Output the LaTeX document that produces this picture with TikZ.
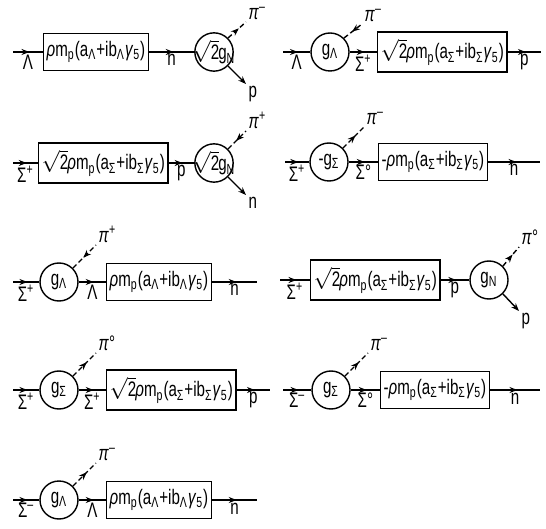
\documentclass[tikz,border=0pt]{standalone}
\usepackage{fontspec}
\setmainfont{Liberation Sans}[FakeStretch=0.72]
\usetikzlibrary{arrows.meta,decorations.markings}

\newcommand{\ampL}{\textit{ρ}m\textsubscript{p}(a\textsubscript{Λ}+ib\textsubscript{Λ}\textit{γ}\textsubscript{5})}
\newcommand{\ampS}{\textit{ρ}m\textsubscript{p}(a\textsubscript{Σ}+ib\textsubscript{Σ}\textit{γ}\textsubscript{5})}
\newcommand{\sqtwo}{$\sqrt{\hbox{2}}$\kern-0.5pt}

\begin{document}
\begin{tikzpicture}[>=Stealth,x=0.5pt,y=-0.5pt,line width=0.7pt,
    font=\fontsize{10.5}{12}\selectfont,
    vtx/.style={circle,draw,minimum size=19pt,inner sep=0pt},
    wide/.style={inner sep=-2pt},
    blk/.style={draw,minimum height=18.5pt,inner xsep=1.5pt,anchor=west},
    lbl/.style={below=0.5pt,inner sep=0.5pt},
    tag/.style={anchor=south west,inner sep=1pt},
    fwd/.style={postaction={decorate},decoration={markings,
      mark=at position 0.55 with {\arrow{Stealth[length=4pt,width=3pt]}}}},
    pion/.style={dash pattern=on 2.5pt off 1.5pt,postaction={decorate},
      decoration={markings,mark=at position 0.6 with {\arrow{Stealth[length=4pt,width=3pt]}}}},
    pionin/.style={dash pattern=on 2.5pt off 1.5pt,postaction={decorate},
      decoration={markings,mark=at position 0.45 with {\arrowreversed{Stealth[length=4pt,width=3pt]}}}},
    nuc/.style={-{Stealth[length=4pt,width=3pt]}}]
  \useasboundingbox (0,0) rectangle (546,529);

  % Lambda -> n pi- -> p
  \coordinate (a1) at (13,52);
  \node[blk] (b1) at (43,52) {\ampL};
  \node[vtx,wide] (v1) at (214,52) {\sqtwo g\textsubscript{N}};
  \coordinate (pi1) at (246,22);
  \coordinate (o1) at (246,84);
  \draw[fwd] (a1) -- node[lbl] (la1) {Λ} (b1);
  \draw[fwd] (b1) -- node[lbl] (lb1) {n} (v1);
  \draw[pion] (v1.north east) -- (pi1) node[tag] (t1) {\textit{π}\textsuperscript{--}};
  \draw[nuc] (v1.south east) -- (o1) node[anchor=north west,inner sep=1pt] (u1) {p};

  % Lambda -> Sigma+ pi- -> p
  \coordinate (a2) at (283,52);
  \node[vtx] (v2) at (330,52) {g\textsubscript{Λ}};
  \node[blk] (b2) at (377,52) {\sqtwo\ampS};
  \coordinate (e2) at (541,52);
  \coordinate (pi2) at (362,24);
  \draw[fwd] (a2) -- node[lbl] (la2) {Λ} (v2);
  \draw[fwd] (v2) -- node[lbl] (lb2) {Σ\textsuperscript{+}} (b2);
  \draw[fwd] (b2) -- node[lbl] (lc2) {p} (e2);
  \draw[pionin] (v2.north east) -- (pi2) node[tag] (t2) {\textit{π}\textsuperscript{--}};

  % Sigma+ -> p -> n pi+
  \coordinate (a3) at (13,163);
  \node[blk] (b3) at (38,163) {\sqtwo\ampS};
  \node[vtx,wide] (v3) at (214,163) {\sqtwo g\textsubscript{N}};
  \coordinate (pi3) at (246,131);
  \coordinate (o3) at (246,195);
  \draw[fwd] (a3) -- node[lbl] (la3) {Σ\textsuperscript{+}} (b3);
  \draw[fwd] (b3) -- node[lbl] (lb3) {p} (v3);
  \draw[pionin] (v3.north east) -- (pi3) node[tag] (t3) {\textit{π}\textsuperscript{+}};
  \draw[nuc] (v3.south east) -- (o3) node[anchor=north west,inner sep=1pt] (u3) {n};

  % Sigma+ -> Sigma0 pi- -> n
  \coordinate (a4) at (285,162);
  \node[vtx] (v4) at (329,162) {-g\textsubscript{Σ}};
  \node[blk] (b4) at (378,162) {-\ampS};
  \coordinate (e4) at (540,162);
  \coordinate (pi4) at (364,127);
  \draw[fwd] (a4) -- node[lbl] (la4) {Σ\textsuperscript{+}} (v4);
  \draw[fwd] (v4) -- node[lbl] (lb4) {Σ°} (b4);
  \draw[fwd] (b4) -- node[lbl] (lc4) {n} (e4);
  \draw[pion] (v4.north east) -- (pi4) node[tag] (t4) {\textit{π}\textsuperscript{--}};

  % Sigma+ -> Lambda pi+ -> n
  \coordinate (a5) at (13,282);
  \node[vtx] (v5) at (59,282) {g\textsubscript{Λ}};
  \node[blk] (b5) at (106,282) {\ampL};
  \coordinate (e5) at (257,282);
  \coordinate (pi5) at (96,245);
  \draw[fwd] (a5) -- node[lbl] (la5) {Σ\textsuperscript{+}} (v5);
  \draw[fwd] (v5) -- node[lbl] (lb5) {Λ} (b5);
  \draw[fwd] (b5) -- node[lbl] (lc5) {n} (e5);
  \draw[pionin] (v5.north east) -- (pi5) node[tag] (t5) {\textit{π}\textsuperscript{+}};

  % Sigma+ -> p -> p pi0
  \coordinate (a6) at (280,280);
  \node[blk] (b6) at (310,280) {\sqtwo\ampS};
  \node[vtx] (v6) at (489,280) {g\textsubscript{N}};
  \coordinate (pi6) at (519,247);
  \coordinate (o6) at (519,311);
  \draw[fwd] (a6) -- node[lbl] (la6) {Σ\textsuperscript{+}} (b6);
  \draw[fwd] (b6) -- node[lbl] (lb6) {p} (v6);
  \draw[pion] (v6.north east) -- (pi6) node[tag] (t6) {\textit{π}°};
  \draw[nuc] (v6.south east) -- (o6) node[anchor=north west,inner sep=1pt] (u6) {p};

  % Sigma+ -> Sigma+ pi0 -> p
  \coordinate (a7) at (13,390);
  \node[vtx] (v7) at (59,390) {g\textsubscript{Σ}};
  \node[blk] (b7) at (106,390) {\sqtwo\ampS};
  \coordinate (e7) at (270,390);
  \coordinate (pi7) at (96,353);
  \draw[fwd] (a7) -- node[lbl] (la7) {Σ\textsuperscript{+}} (v7);
  \draw[fwd] (v7) -- node[lbl] (lb7) {Σ\textsuperscript{+}} (b7);
  \draw[fwd] (b7) -- node[lbl] (lc7) {p} (e7);
  \draw[pion] (v7.north east) -- (pi7) node[tag] (t7) {\textit{π}°};

  % Sigma- -> Sigma0 pi- -> n
  \coordinate (a8) at (283,390);
  \node[vtx] (v8) at (331,390) {g\textsubscript{Σ}};
  \node[blk] (b8) at (380,390) {-\ampS};
  \coordinate (e8) at (540,390);
  \coordinate (pi8) at (368,353);
  \draw[fwd] (a8) -- node[lbl] (la8) {Σ\textsuperscript{--}} (v8);
  \draw[fwd] (v8) -- node[lbl] (lb8) {Σ°} (b8);
  \draw[fwd] (b8) -- node[lbl] (lc8) {n} (e8);
  \draw[pion] (v8.north east) -- (pi8) node[tag] (t8) {\textit{π}\textsuperscript{--}};

  % Sigma- -> Lambda pi- -> n
  \coordinate (a9) at (13,500);
  \node[vtx] (v9) at (59,500) {g\textsubscript{Λ}};
  \node[blk] (b9) at (106,500) {\ampL};
  \coordinate (e9) at (257,500);
  \coordinate (pi9) at (96,463);
  \draw[fwd] (a9) -- node[lbl] (la9) {Σ\textsuperscript{--}} (v9);
  \draw[fwd] (v9) -- node[lbl] (lb9) {Λ} (b9);
  \draw[fwd] (b9) -- node[lbl] (lc9) {n} (e9);
  \draw[pion] (v9.north east) -- (pi9) node[tag] (t9) {\textit{π}\textsuperscript{--}};
\end{tikzpicture}
\end{document}
